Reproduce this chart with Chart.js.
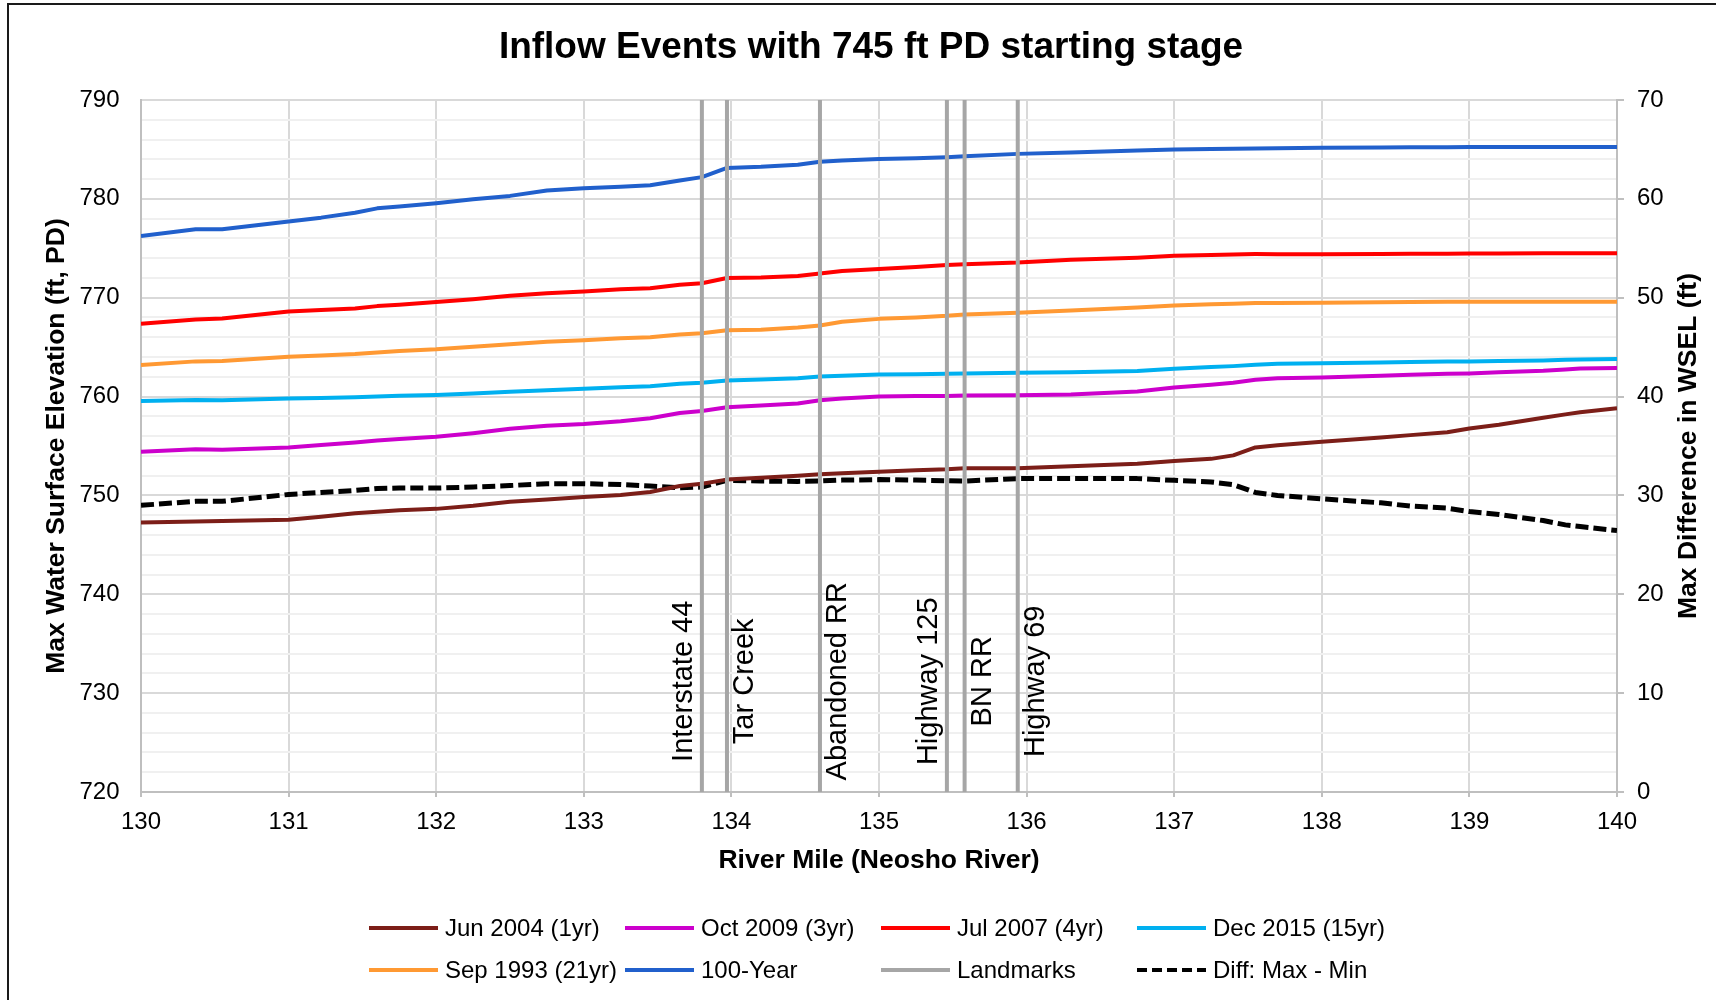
<!DOCTYPE html>
<html>
<head>
<meta charset="utf-8">
<script src="https://cdn.jsdelivr.net/npm/chart.js@4.4.1/dist/chart.umd.min.js"></script>
<style>
html, body { margin: 0; padding: 0; background: #ffffff; }
#wrap { width: 1716px; height: 1000px; position: relative; }
</style>
</head>
<body>
<div id="wrap"><canvas id="c" width="1716" height="1000"></canvas></div>
<script>
// ---------------- DATA ----------------
const miles = [130.0, 130.37, 130.55, 131.0, 131.22, 131.45, 131.6, 131.75, 132.0, 132.25, 132.5, 132.75, 133.0, 133.25, 133.45, 133.65, 133.8, 133.97, 134.2, 134.45, 134.6, 134.75, 135.0, 135.25, 135.46, 135.58, 135.94, 136.3, 136.75, 137.0, 137.25, 137.4, 137.55, 137.7, 138.0, 138.4, 138.6, 138.85, 139.0, 139.2, 139.5, 139.65, 139.75, 140.0];
const jun2004 = [747.25, 747.36, 747.42, 747.53, 747.85, 748.2, 748.35, 748.5, 748.64, 748.95, 749.35, 749.6, 749.83, 750.05, 750.34, 750.95, 751.19, 751.6, 751.8, 752.0, 752.14, 752.25, 752.4, 752.55, 752.64, 752.75, 752.75, 752.95, 753.2, 753.49, 753.7, 754.05, 754.85, 755.08, 755.42, 755.86, 756.1, 756.4, 756.78, 757.15, 757.86, 758.2, 758.41, 758.81];
const oct2009 = [754.41, 754.68, 754.62, 754.85, 755.1, 755.36, 755.55, 755.7, 755.93, 756.3, 756.75, 757.05, 757.22, 757.5, 757.8, 758.34, 758.54, 758.92, 759.1, 759.29, 759.63, 759.8, 760.0, 760.05, 760.05, 760.1, 760.14, 760.22, 760.51, 760.92, 761.2, 761.4, 761.7, 761.86, 761.93, 762.1, 762.2, 762.3, 762.34, 762.45, 762.61, 762.75, 762.85, 762.88];
const jul2007 = [767.36, 767.8, 767.9, 768.6, 768.75, 768.9, 769.15, 769.3, 769.56, 769.85, 770.2, 770.45, 770.64, 770.85, 770.95, 771.32, 771.46, 772.0, 772.05, 772.2, 772.44, 772.7, 772.9, 773.1, 773.32, 773.39, 773.56, 773.85, 774.05, 774.24, 774.33, 774.38, 774.41, 774.4, 774.4, 774.42, 774.44, 774.45, 774.47, 774.48, 774.5, 774.5, 774.5, 774.5];
const dec2015 = [759.56, 759.66, 759.63, 759.8, 759.85, 759.93, 760.0, 760.08, 760.17, 760.3, 760.5, 760.65, 760.78, 760.95, 761.05, 761.29, 761.39, 761.63, 761.72, 761.85, 762.03, 762.1, 762.24, 762.27, 762.3, 762.33, 762.41, 762.45, 762.58, 762.81, 762.98, 763.08, 763.22, 763.32, 763.36, 763.45, 763.5, 763.54, 763.56, 763.6, 763.66, 763.72, 763.76, 763.8];
const sep1993 = [763.19, 763.56, 763.6, 764.03, 764.15, 764.3, 764.45, 764.6, 764.78, 765.05, 765.3, 765.55, 765.7, 765.9, 766.0, 766.27, 766.4, 766.71, 766.76, 766.98, 767.19, 767.56, 767.86, 768.0, 768.17, 768.31, 768.47, 768.7, 769.0, 769.22, 769.35, 769.4, 769.46, 769.47, 769.49, 769.53, 769.56, 769.58, 769.59, 769.6, 769.6, 769.6, 769.6, 769.6];
const yr100 = [776.25, 776.92, 776.92, 777.7, 778.1, 778.6, 779.04, 779.22, 779.55, 779.96, 780.3, 780.85, 781.07, 781.22, 781.38, 781.85, 782.2, 783.13, 783.24, 783.45, 783.75, 783.88, 784.02, 784.12, 784.22, 784.3, 784.55, 784.7, 784.9, 785.0, 785.05, 785.08, 785.1, 785.13, 785.18, 785.2, 785.22, 785.23, 785.24, 785.25, 785.25, 785.25, 785.25, 785.25];
const diffMaxMin = [29.0, 29.4, 29.4, 30.1, 30.3, 30.5, 30.7, 30.75, 30.75, 30.85, 31.0, 31.19, 31.19, 31.1, 30.95, 30.78, 30.85, 31.53, 31.45, 31.42, 31.46, 31.55, 31.6, 31.55, 31.49, 31.46, 31.7, 31.7, 31.7, 31.53, 31.36, 31.1, 30.3, 30.0, 29.66, 29.25, 28.92, 28.71, 28.37, 28.07, 27.46, 27.02, 26.85, 26.44];
const landmarkMiles = [133.80, 133.97, 134.60, 135.46, 135.58, 135.94];
const landmarkNames = ['Interstate 44', 'Tar Creek', 'Abandoned RR', 'Highway 125', 'BN RR', 'Highway 69'];
const elevMin = 720, elevMax = 790;
const diffMin = 0, diffMax = 70;
const riverMin = 130, riverMax = 140;

// ---------------- BUILD ----------------
const FONT = "'Liberation Sans', Arial, Helvetica, sans-serif";
Chart.defaults.font.family = FONT;
Chart.defaults.color = '#000000';

const toPts = (ys) => miles.map((m, i) => ({ x: m, y: ys[i] }));
const landmarkData = [];
landmarkMiles.forEach((m) => {
  landmarkData.push({ x: m, y: elevMin }, { x: m, y: elevMax }, { x: m, y: null });
});

const lineBase = { pointRadius: 0, pointHoverRadius: 0, tension: 0, fill: false, borderWidth: 4, borderJoinStyle: 'round', borderCapStyle: 'butt', spanGaps: false };

const datasets = [
  Object.assign({}, lineBase, { label: 'Landmarks', data: landmarkData, borderColor: '#a6a6a6', yAxisID: 'y', order: 0 }),
  Object.assign({}, lineBase, { label: 'Jun 2004 (1yr)', data: toPts(jun2004), borderColor: '#7c1e18', yAxisID: 'y', order: 1 }),
  Object.assign({}, lineBase, { label: 'Oct 2009 (3yr)', data: toPts(oct2009), borderColor: '#cc00cc', yAxisID: 'y', order: 1 }),
  Object.assign({}, lineBase, { label: 'Jul 2007 (4yr)', data: toPts(jul2007), borderColor: '#ff0000', yAxisID: 'y', order: 1 }),
  Object.assign({}, lineBase, { label: 'Dec 2015 (15yr)', data: toPts(dec2015), borderColor: '#00b0f0', yAxisID: 'y', order: 1 }),
  Object.assign({}, lineBase, { label: 'Sep 1993 (21yr)', data: toPts(sep1993), borderColor: '#ff9933', yAxisID: 'y', order: 1 }),
  Object.assign({}, lineBase, { label: '100-Year', data: toPts(yr100), borderColor: '#2160cc', yAxisID: 'y', order: 1 }),
  Object.assign({}, lineBase, { label: 'Diff: Max - Min', data: toPts(diffMaxMin), borderColor: '#000000', borderWidth: 5, borderDash: [13, 5], yAxisID: 'y2', order: 1 })
];

const framePlugin = {
  id: 'frame',
  beforeDraw(chart) {
    const ctx = chart.ctx;
    ctx.save();
    ctx.fillStyle = '#ffffff';
    ctx.fillRect(0, 0, chart.width, chart.height);
    ctx.strokeStyle = '#1a1a1a';
    ctx.lineWidth = 2;
    ctx.beginPath();
    ctx.moveTo(8, chart.height);
    ctx.lineTo(8, 4);
    ctx.lineTo(chart.width, 4);
    ctx.stroke();
    ctx.restore();
  }
};

const landmarkLabelPlugin = {
  id: 'landmarkLabels',
  afterDatasetsDraw(chart, args, opts) {
    const { ctx, scales } = chart;
    ctx.save();
    ctx.font = opts.fontSize + 'px ' + FONT;
    ctx.fillStyle = '#000000';
    ctx.textAlign = 'center';
    ctx.textBaseline = 'middle';
    landmarkMiles.forEach((m, i) => {
      const px = scales.x.getPixelForValue(m) + opts.sides[i] * opts.offset;
      const py = scales.y.getPixelForValue(opts.labelElevation);
      ctx.save();
      ctx.translate(px, py);
      ctx.rotate(-Math.PI / 2);
      ctx.fillText(landmarkNames[i], 0, 0);
      ctx.restore();
    });
    ctx.restore();
  }
};

const rightTitlePlugin = {
  id: 'rightTitle',
  afterDraw(chart, args, opts) {
    const { ctx, scales, chartArea } = chart;
    const s = scales.y2;
    ctx.save();
    ctx.font = 'bold ' + opts.fontSize + 'px ' + FONT;
    ctx.fillStyle = '#000000';
    ctx.textAlign = 'center';
    ctx.textBaseline = 'middle';
    ctx.translate(s.right - opts.inset, (chartArea.top + chartArea.bottom) / 2);
    ctx.rotate(-Math.PI / 2);
    ctx.fillText(opts.text, 0, 0);
    ctx.restore();
  }
};

const gridLegendPlugin = {
  id: 'gridLegend',
  afterDraw(chart, args, opts) {
    const ctx = chart.ctx;
    ctx.save();
    ctx.font = opts.fontSize + 'px ' + FONT;
    ctx.textBaseline = 'middle';
    ctx.textAlign = 'left';
    opts.order.forEach((label, i) => {
      const ds = chart.data.datasets.find((d) => d.label === label);
      const col = i % opts.columns;
      const row = Math.floor(i / opts.columns);
      const x = opts.left + col * opts.colWidth;
      const y = opts.top + row * opts.rowHeight;
      ctx.beginPath();
      ctx.strokeStyle = ds.borderColor;
      ctx.lineWidth = opts.lineWidth;
      ctx.setLineDash(ds.borderDash ? [10, 5] : []);
      ctx.moveTo(x, y);
      ctx.lineTo(x + opts.sampleWidth, y);
      ctx.stroke();
      ctx.setLineDash([]);
      ctx.fillStyle = '#000000';
      ctx.fillText(label, x + opts.sampleWidth + opts.gap, y + 1);
    });
    ctx.restore();
  }
};

new Chart(document.getElementById('c'), {
  type: 'line',
  data: { datasets: datasets },
  plugins: [framePlugin, landmarkLabelPlugin, rightTitlePlugin, gridLegendPlugin],
  options: {
    responsive: false,
    animation: false,
    devicePixelRatio: 1,
    layout: { padding: { left: 26, right: 0, top: 0, bottom: 123 } },
    plugins: {
      legend: { display: false },
      tooltip: { enabled: false },
      title: {
        display: true,
        text: 'Inflow Events with 745 ft PD starting stage',
        font: { size: 37, weight: 'bold' },
        color: '#000000',
        padding: { top: 26, bottom: 29.6 }
      },
      landmarkLabels: { fontSize: 29, offset: 18, labelElevation: 731.2, sides: [-1, 1, 1, -1, 1, 1] },
      rightTitle: { text: 'Max Difference in WSEL (ft)', fontSize: 26.5, inset: 27 },
      gridLegend: {
        order: ['Jun 2004 (1yr)', 'Oct 2009 (3yr)', 'Jul 2007 (4yr)', 'Dec 2015 (15yr)', 'Sep 1993 (21yr)', '100-Year', 'Landmarks', 'Diff: Max - Min'],
        columns: 4, left: 369, top: 928, colWidth: 256, rowHeight: 42,
        sampleWidth: 69, gap: 7, lineWidth: 4, fontSize: 24
      }
    },
    scales: {
      x: {
        type: 'linear', position: 'bottom', min: riverMin, max: riverMax,
        ticks: { stepSize: 1, autoSkip: false, maxRotation: 0, font: { size: 24 }, color: '#000000', padding: 11 },
        grid: { color: '#d9d9d9', lineWidth: 2, drawTicks: true, tickLength: 5, tickColor: '#bfbfbf' },
        border: { display: true, color: '#bfbfbf', width: 2 },
        title: { display: true, text: 'River Mile (Neosho River)', font: { size: 26.5, weight: 'bold' }, color: '#000000', padding: { top: 0, bottom: 0 } },
        afterFit(s) { s.height = 85; }
      },
      y: {
        type: 'linear', position: 'left', min: elevMin, max: elevMax,
        ticks: { stepSize: 2, autoSkip: false, font: { size: 24 }, color: '#000000', padding: 21.5,
                 callback: (v) => (v % 10 === 0 ? String(v) : '') },
        grid: { color: (c) => (c.tick && c.tick.value % 10 === 0 ? '#d9d9d9' : '#f0f0f0'), lineWidth: 2, drawTicks: false },
        border: { display: true, color: '#bfbfbf', width: 2 },
        title: { display: true, text: 'Max Water Surface Elevation (ft, PD)', font: { size: 26.5, weight: 'bold' }, color: '#000000', padding: { top: 15.1, bottom: 0 } },
        afterFit(s) { s.width = 115; }
      },
      y2: {
        type: 'linear', position: 'right', min: diffMin, max: diffMax,
        ticks: { stepSize: 10, autoSkip: false, font: { size: 24 }, color: '#000000', padding: 13 },
        grid: { drawOnChartArea: false, color: '#bfbfbf', lineWidth: 2, drawTicks: true, tickLength: 7 },
        border: { display: true, color: '#bfbfbf', width: 2 },
        title: { display: false },
        afterFit(s) { s.width = 99; }
      }
    }
  }
});
</script>
</body>
</html>
